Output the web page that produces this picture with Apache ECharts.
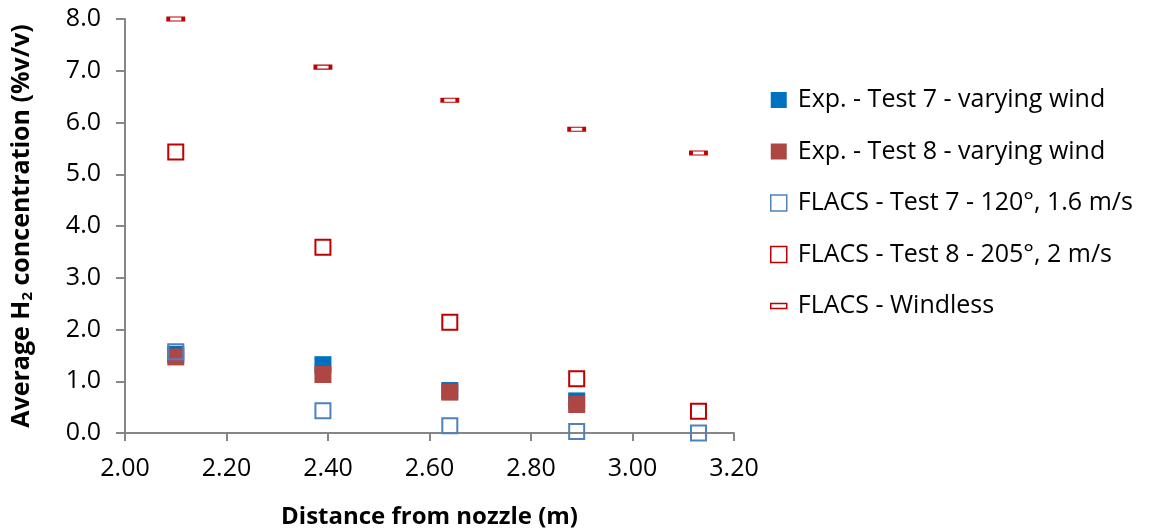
<!DOCTYPE html>
<html><head><meta charset="utf-8">
<script src="https://cdn.jsdelivr.net/npm/echarts@6/dist/echarts.min.js"></script>
<style>html,body{margin:0;padding:0;background:#fff}#c{width:1149px;height:531px}</style>
</head><body><div id="c"></div>
<script>
const distances = [2.10, 2.39, 2.64, 2.89, 3.13];
const expTest7 = [1.52, 1.32, 0.82, 0.62];
const expTest8 = [1.47, 1.13, 0.79, 0.55];
const flacsTest7 = [1.57, 0.43, 0.14, 0.03, 0.00];
const flacsTest8 = [5.43, 3.59, 2.14, 1.05, 0.42];
const flacsWindless = [8.00, 7.07, 6.43, 5.87, 5.41];
const seriesNames = ['Exp. - Test 7 - varying wind','Exp. - Test 8 - varying wind','FLACS - Test 7 - 120°, 1.6 m/s','FLACS - Test 8 - 205°, 2 m/s','FLACS - Windless'];

const pair = vals => vals.map((v,i)=>[distances[i], v]);
const font = '"Open Sans", sans-serif';
const axisGray = '#868686';
const chart = echarts.init(document.getElementById('c'));
chart.setOption({
  animation:false,
  textStyle:{fontFamily:font},
  grid:{left:125, right:415, top:19, bottom:98, containLabel:false, outerBoundsMode:'none'},
  xAxis:{type:'value', min:2.0, max:3.2, interval:0.2,
    axisLine:{lineStyle:{color:axisGray,width:2}},
    axisTick:{show:true, length:8, lineStyle:{color:axisGray,width:2}},
    splitLine:{show:false},
    axisLabel:{formatter:v=>v.toFixed(2), color:'#000', fontSize:25, margin:23, fontFamily:font},
    name:'Distance from nozzle (m)', nameLocation:'middle', nameGap:72,
    nameTextStyle:{fontSize:24, fontWeight:'bold', color:'#000', fontFamily:font}
  },
  yAxis:{type:'value', min:0, max:8, interval:1,
    axisLine:{show:true, lineStyle:{color:axisGray,width:2}},
    axisTick:{show:true, length:9, lineStyle:{color:axisGray,width:2}},
    splitLine:{show:false},
    axisLabel:{formatter:v=>v.toFixed(1), color:'#000', fontSize:25, margin:24, fontFamily:font},
    name:'Average H{sub|2} concentration (%v/v)', nameLocation:'middle', nameGap:90, nameRotate:90,
    nameTextStyle:{fontSize:25, fontWeight:'bold', color:'#000', fontFamily:font,
      rich:{sub:{fontSize:15, fontWeight:'bold', verticalAlign:'bottom', padding:[12,0,0,0], fontFamily:font}}}
  },
  legend:{orient:'vertical', left:770, top:87, padding:0, itemGap:25.5, itemWidth:16, itemHeight:16,
    textStyle:{fontSize:25, lineHeight:26, color:'#000', fontFamily:font, padding:[0,0,0,6]},
    data:[
      {name:seriesNames[0], icon:'rect'},
      {name:seriesNames[1], icon:'rect'},
      {name:seriesNames[2], icon:'rect', itemStyle:{color:'#fff', borderColor:'#4F81BD', borderWidth:1.5}},
      {name:seriesNames[3], icon:'rect', itemStyle:{color:'#fff', borderColor:'#C00000', borderWidth:1.5}},
      {name:seriesNames[4], icon:'path://M0,0 L16,0 L16,5 L0,5 Z', itemStyle:{color:'#fff', borderColor:'#C00000', borderWidth:1.5}}
    ]
  },
  series:[
    {name:seriesNames[0], type:'scatter', data:pair(expTest7), symbol:'rect', symbolSize:17,
      itemStyle:{color:'#0070C0', opacity:1}},
    {name:seriesNames[1], type:'scatter', data:pair(expTest8), symbol:'rect', symbolSize:17,
      itemStyle:{color:'#AE4744', opacity:1}},
    {name:seriesNames[2], type:'scatter', data:pair(flacsTest7), symbol:'rect', symbolSize:15,
      itemStyle:{color:'rgba(255,255,255,0)', borderColor:'#4F81BD', borderWidth:2, opacity:1}},
    {name:seriesNames[3], type:'scatter', data:pair(flacsTest8), symbol:'rect', symbolSize:15,
      itemStyle:{color:'#fff', borderColor:'#C00000', borderWidth:2, opacity:1}},
    {name:seriesNames[4], type:'scatter', data:pair(flacsWindless), symbol:'rect', symbolSize:[15,4],
      itemStyle:{color:'#fff', borderColor:'#C00000', borderWidth:2, opacity:1}}
  ]
});
</script></body></html>
